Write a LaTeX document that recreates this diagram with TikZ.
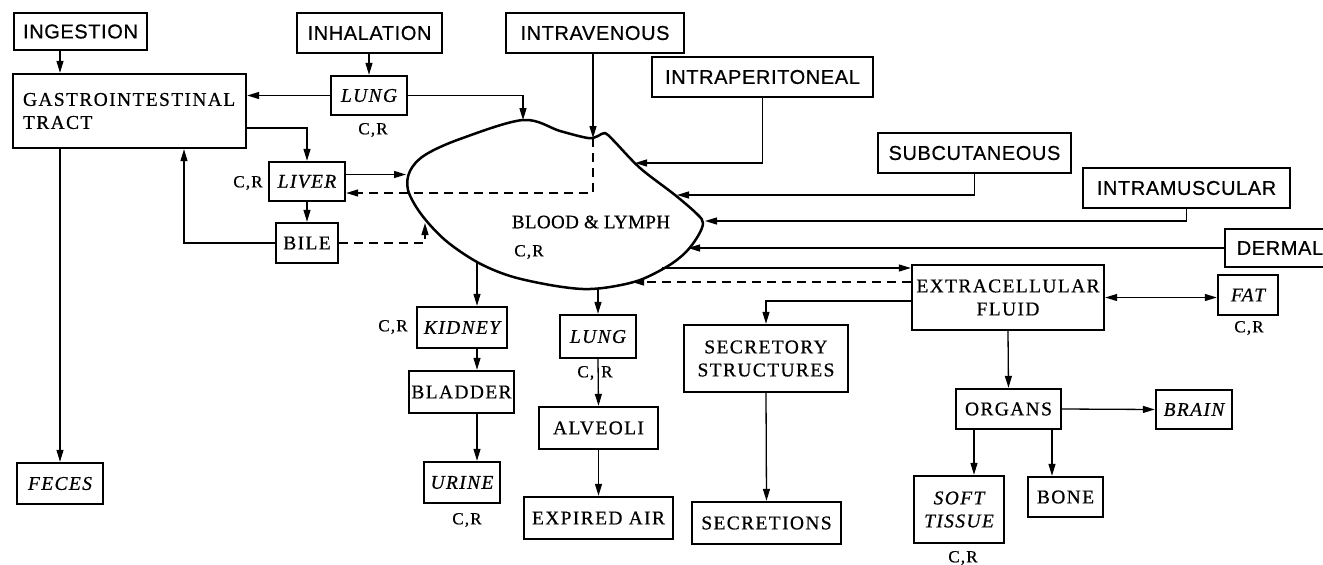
\documentclass[tikz,border=0pt]{standalone}
\usepackage{fontspec}
\setmainfont{Liberation Serif}[LetterSpace=7, FakeBold=0.6]
\newfontfamily\routefont{Liberation Sans}[LetterSpace=3, FakeBold=0.6]
\usetikzlibrary{arrows.meta,calc}
\tikzset{
  box/.style={draw, line width=2.4pt, inner sep=0pt, align=center, font=\fontsize{19.5}{23}\selectfont},
  sz/.style 2 args={minimum width=#1pt, minimum height=#2pt},
  route/.style={box, font=\fontsize{20}{23}\selectfont\routefont},
  organ/.style={box, font=\fontsize{19.5}{23}\selectfont\itshape},
  tip/.tip={Triangle[length=12pt,width=7pt]},
  arr/.style={line width=1.3pt, -tip},
  dasharr/.style={arr, dash pattern=on 9pt off 6pt},
  cr/.style={inner sep=0pt, font=\fontsize{17}{19}\selectfont},
  blob/.style={line width=2.5pt, line join=round},
}
\begin{document}
\begin{tikzpicture}[x=1pt,y=-1pt]
\useasboundingbox (0,0) rectangle (1323,565);

% routes of entry
\node[route, sz={133}{37}] (ingestion) at (80.5,31.5) {INGESTION};
\node[route, sz={145}{40}] (inhal) at (369.5,33) {INHALATION};
\node[route, sz={178}{40}] (iv) at (595,33) {INTRAVENOUS};
\node[route, sz={221}{40}] (ip) at (762.5,77) {INTRAPERITONEAL};
\node[route, sz={193}{40}] (subq) at (974.5,153) {SUBCUTANEOUS};
\node[route, sz={207}{40}] (im) at (1186.5,188) {INTRAMUSCULAR};
\node[route, sz={110}{38}] (dermal) at (1280,248) {DERMAL};

% other boxes
\node[box, sz={233}{74}, text width=213pt, align=left] (gi) at (129.5,111) {GASTROINTESTINAL\\TRACT};
\node[organ, sz={76}{39}] (lungT) at (369,95.5) {LUNG};
\node[organ, sz={76}{39}] (liver) at (307,181.5) {LIVER};
\node[box, sz={62}{40}] (bile) at (307,243) {BILE};
\node[organ, sz={86}{41}] (feces) at (60,483.5) {FECES};
\node[organ, sz={90}{41}] (kidney) at (462,327.5) {KIDNEY};
\node[box, sz={105}{42}] (bladder) at (461.5,392) {BLADDER};
\node[organ, sz={76}{41}] (urine) at (462,482.5) {URINE};
\node[organ, sz={76}{43}] (lungB) at (598,336.5) {LUNG};
\node[box, sz={119}{42}] (alveoli) at (598.5,428) {ALVEOLI};
\node[box, sz={149}{42}] (expired) at (598.5,518) {EXPIRED AIR};
\node[box, sz={164}{67}] (secretory) at (766,358.5) {SECRETORY\\STRUCTURES};
\node[box, sz={149}{42}] (secretions) at (766.5,523) {SECRETIONS};
\node[box, sz={192}{65}] (ec) at (1008,297.5) {EXTRACELLULAR\\FLUID};
\node[organ, sz={60}{40}] (fat) at (1248,295) {FAT};
\node[box, sz={105}{40}] (organs) at (1008.5,409) {ORGANS};
\node[organ, sz={76}{39}] (brain) at (1194,409.5) {BRAIN};
\node[organ, sz={90}{67}] (soft) at (959,509.5) {SOFT\\TISSUE};
\node[box, sz={75}{40}] (bone) at (1065.5,497) {BONE};

% blood & lymph pool
\draw[blob] plot[smooth cycle, tension=0.55] coordinates {
  (523,120) (560,131) (588,138) (598,136) (605,133) (614,141) (640,168)
  (675,195) (697,214) (703,223) (698,236) (686,252) (668,266) (640,280)
  (610,287) (583,289) (550,285) (510,276) (477,262) (445,240) (421,214)
  (408,190) (410,171) (425,155) (460,139)};
\node[inner sep=0pt, font=\fontsize{19}{23}\selectfont\addfontfeature{LetterSpace=2}] (blood) at (591,222) {BLOOD \& LYMPH};
\node[cr] (crblood) at (529,252) {C,R};

% points on the pool outline
\coordinate (bTop) at (523,120);
\coordinate (bDip) at (593,138);
\coordinate (bLiv) at (406,174.5);
\coordinate (bBile) at (425,223);
\coordinate (bIP) at (635,163);
\coordinate (bSQ) at (677,195);
\coordinate (bIM) at (705,221);
\coordinate (bDe) at (688,248);
\coordinate (bEC) at (662,268);
\coordinate (bEC2) at (632,282);
\coordinate (bKid) at (477,261);
\coordinate (bLB) at (598,289);

% C,R labels
\node[cr] at (373,130) {C,R};
\node[cr] at (248,183) {C,R};
\node[cr] at (393,327) {C,R};
\node[cr] at (467,520) {C,R};
\node[cr] at (595,373) {C,\hspace{7pt}R};
\node[cr] at (1249,328) {C,R};
\node[cr] at (963,558) {C,R};

% connectors
\draw[arr] (ingestion.south -| feces.north) -- (gi.north -| feces.north);
\draw[arr] (inhal.south -| lungT.north) -- (lungT.north);
\draw[arr] (lungT.west) -- (gi.east |- lungT.west);
\draw[arr] (lungT.east) -| (bTop);
\draw[arr] ([yshift=-17pt]gi.east) -| (liver.north);
\draw[arr] ([yshift=7pt]liver.east) -- (bLiv);
\draw[arr] (iv.south -| bDip) -- (bDip);
\draw[dasharr] (bDip) |- ([yshift=-11.5pt]liver.east);
\draw[arr] (liver.south) -- (bile.north);
\draw[arr] (bile.west) -| ([xshift=54.5pt]gi.south);
\draw[dasharr] (bile.east) -| (bBile);
\draw[arr] (ip.south) |- (bIP);
\draw[arr] (subq.south) |- (bSQ);
\draw[arr] (im.south) |- (bIM);
\draw[arr] (dermal.west) -- (bDe);
\draw[arr] (bEC) -- (ec.west |- bEC);
\draw[dasharr] (ec.west |- bEC2) -- (bEC2);
\draw[arr] ([yshift=-3.5pt]ec.west) -| (secretory.north);
\draw[arr] (bKid) -- (bKid |- kidney.north);
\draw[arr] (kidney.south -| bKid) -- (bladder.north -| bKid);
\draw[arr] (bladder.south -| bKid) -- (urine.north -| bKid);
\draw[arr] (bLB) -- (lungB.north);
\draw[arr] (lungB.south) -- (alveoli.north);
\draw[arr] (alveoli.south) -- (expired.north);
\draw[arr] (secretory.south) -- (secretions.north);
\draw[arr] (gi.south -| feces.north) -- (feces.north);
\draw[arr, tip-tip] (ec.east) -- (fat.west |- ec.east);
\draw[arr] (ec.south) -- (organs.north);
\draw[arr] (organs.east) -- (brain.west);
\coordinate (os1) at ([xshift=-34.5pt]organs.south);
\coordinate (os2) at ([xshift=43.5pt]organs.south);
\draw[arr] (os1) -- (os1 |- soft.north);
\draw[arr] (os2) -- (os2 |- bone.north);
\end{tikzpicture}
\end{document}
